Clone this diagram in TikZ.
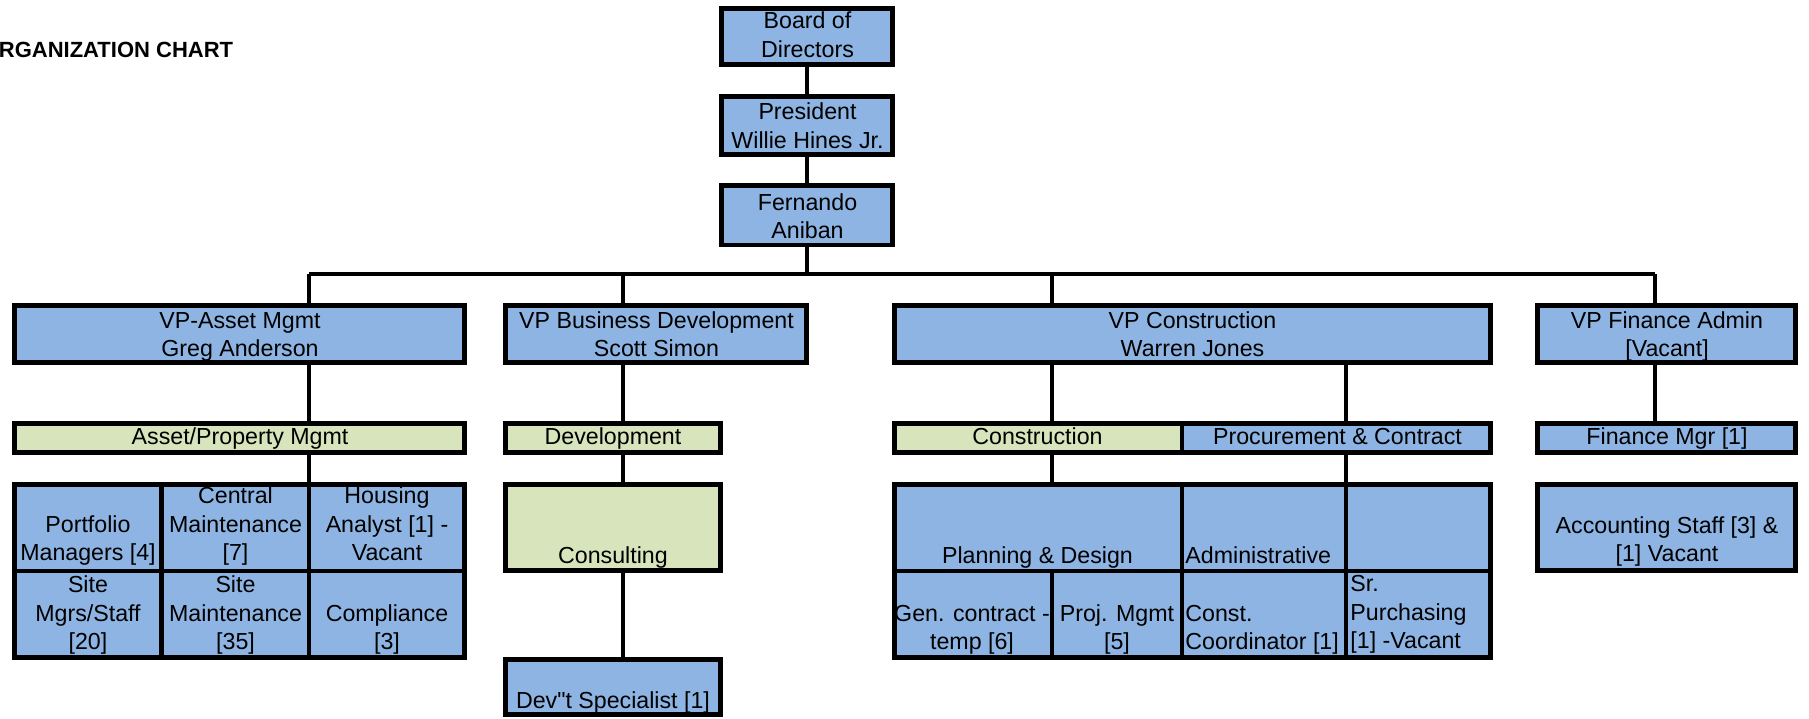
\documentclass[tikz,border=0pt]{standalone}
\usepackage{fontspec}
\setmainfont{Liberation Sans}
\newfontfamily\qfont{Liberation Sans}
\definecolor{cellblue}{RGB}{141,180,226}
\definecolor{cellgreen}{RGB}{216,228,188}
\newcommand\lst{\rule[-3pt]{0pt}{3pt}}
\newcommand\cellbox[6]{\node[#6,minimum width={(#4-#2)*0.5pt},minimum height={(#5-#3)*0.5pt}] (#1) at ({(#2+#4)/2},{(#3+#5)/2}) {};}
\tikzset{
  boxbase/.style={draw=black, line width=2.4pt, rectangle, inner sep=0pt, outer sep=0pt},
  bbox/.style={boxbase, fill=cellblue},
  gbox/.style={boxbase, fill=cellgreen},
  txt/.style={font=\fontsize{11.6}{14.25}\selectfont, inner sep=0pt, align=center, anchor=south},
  ltxt/.style={font=\fontsize{11.6}{14.25}\selectfont, inner sep=0pt, align=left, anchor=south west},
  conn/.style={line width=1.7pt}
}
\begin{document}
\begin{tikzpicture}[x=0.5pt,y=-0.5pt]
\useasboundingbox (0,0) rectangle (1809,718);
% title
\node[font=\fontsize{11}{13}\selectfont\bfseries, anchor=base west, inner sep=0pt] (title) at (-1.5,57.3) {RGANIZATION CHART};
% top chain
\cellbox{board}{721.4}{8.4}{892.6}{64.6}{bbox}
\cellbox{pres}{721.4}{96.7}{892.6}{154.3}{bbox}
\cellbox{fern}{721.4}{185.7}{892.6}{244.9}{bbox}
% VPs
\cellbox{vpa}{14.4}{305.4}{464.6}{362.6}{bbox}
\cellbox{vpb}{505.4}{305.4}{806.6}{362.6}{bbox}
\cellbox{vpc}{894.4}{305.4}{1490.6}{362.6}{bbox}
\cellbox{vpf}{1537.4}{305.4}{1795.6}{362.6}{bbox}
% level 2
\cellbox{ap}{14.4}{423.4}{464.6}{452.6}{gbox}
\cellbox{dev}{505.4}{423.4}{720.6}{452.6}{gbox}
\cellbox{constr}{894.4}{423.4}{1182}{452.6}{gbox}
\cellbox{proc}{1182}{423.4}{1490.6}{452.6}{bbox}
\cellbox{fm}{1537.4}{423.4}{1795.6}{452.6}{bbox}
% asset grid
\cellbox{a11}{14.4}{484.4}{161.7}{571}{bbox}
\cellbox{a12}{161.7}{484.4}{309}{571}{bbox}
\cellbox{a13}{309}{484.4}{464.6}{571}{bbox}
\cellbox{a21}{14.4}{571}{161.7}{657.6}{bbox}
\cellbox{a22}{161.7}{571}{309}{657.6}{bbox}
\cellbox{a23}{309}{571}{464.6}{657.6}{bbox}
% development
\cellbox{cons}{505.4}{484.4}{720.6}{570.6}{gbox}
\cellbox{devs}{505.4}{659.4}{720.6}{714.6}{bbox}
% construction grid
\cellbox{c11}{894.4}{484.4}{1182}{571}{bbox}
\cellbox{c12}{1182}{484.4}{1346}{571}{bbox}
\cellbox{c13}{1346}{484.4}{1490.6}{571}{bbox}
\cellbox{c21}{894.4}{571}{1052}{657.6}{bbox}
\cellbox{c22}{1052}{571}{1182}{657.6}{bbox}
\cellbox{c23}{1182}{571}{1346}{657.6}{bbox}
\cellbox{c24}{1346}{571}{1490.6}{657.6}{bbox}
% finance
\cellbox{acc}{1537.4}{484.4}{1795.6}{570.6}{bbox}
% connector coordinates
\coordinate (busL) at (309,274);
\coordinate (busB) at (623,274);
\coordinate (busC) at (1052,274);
\coordinate (busR) at (1655,274);
\coordinate (procx) at (1346,274);
% connectors
\draw[conn] (board.south) -- (pres.north);
\draw[conn] (pres.south) -- (fern.north);
\draw[conn] (fern.south) -- (fern.south |- busL);
\draw[conn] (busL) -- (busR);
\draw[conn] (busL) -- (busL |- vpa.north);
\draw[conn] (busB) -- (busB |- vpb.north);
\draw[conn] (busC) -- (busC |- vpc.north);
\draw[conn] (busR) -- (busR |- vpf.north);
\draw[conn] (busL |- vpa.south) -- (busL |- ap.north);
\draw[conn] (busL |- ap.south) -- (busL |- a13.north);
\draw[conn] (busB |- vpb.south) -- (busB |- dev.north);
\draw[conn] (busB |- dev.south) -- (busB |- cons.north);
\draw[conn] (busB |- cons.south) -- (busB |- devs.north);
\draw[conn] (busC |- vpc.south) -- (busC |- constr.north);
\draw[conn] (busC |- constr.south) -- (busC |- c11.north);
\draw[conn] (procx |- vpc.south) -- (procx |- proc.north);
\draw[conn] (procx |- proc.south) -- (procx |- c13.north);
\draw[conn] (busR |- vpf.south) -- (busR |- fm.north);
% texts
\begin{scope}[yshift=-1pt]
\node[txt] (t-board) at (807.5,61.7) {Board of\\Directors\lst};
\node[txt] (t-pres) at (807.5,152.7) {President\\Willie Hines Jr.\lst};
\node[txt] (t-fern) at (807.5,243) {Fernando\\Aniban\lst};
\node[txt] (t-vpa) at (240,361) {VP-Asset Mgmt\\Greg Anderson\lst};
\node[txt] (t-vpb) at (656.5,361) {VP Business Development\\Scott Simon\lst};
\node[txt] (t-vpc) at (1192.5,361) {VP Construction\\Warren Jones\lst};
\node[txt] (t-vpf) at (1667,361) {VP Finance Admin\\{}[Vacant]\lst};
\node[txt] (t-ap) at (240,449.3) {Asset/Property Mgmt\lst};
\node[txt] (t-dev) at (613,449.3) {Development\lst};
\node[txt] (t-constr) at (1037.5,449.3) {Construction\lst};
\node[txt] (t-proc) at (1337.5,449.3) {Procurement \& Contract\lst};
\node[txt] (t-fm) at (1667,449.3) {Finance Mgr [1]\lst};
\node[txt] (t-a11) at (88,565.3) {Portfolio\\Managers [4]\lst};
\node[txt] (t-a12) at (235.5,565.3) {Central\\Maintenance\\{}[7]\lst};
\node[txt] (t-a13) at (387,565.3) {Housing\\Analyst [1] -\\Vacant\lst};
\node[txt] (t-a21) at (88,654.3) {Site\\Mgrs/Staff\\{}[20]\lst};
\node[txt] (t-a22) at (235.5,654.3) {Site\\Maintenance\\{}[35]\lst};
\node[txt] (t-a23) at (387,654.3) {Compliance\\{}[3]\lst};
\node[txt] (t-cons) at (613,567.7) {Consulting\lst};
\node[txt] (t-devs) at (613,712.7) {Dev{\qfont"}t Specialist [1]\lst};
\node[txt] (t-c11) at (1037.5,567.7) {Planning \& Design\lst};
\node[ltxt] (t-c12) at (1185,567.7) {Administrative\lst};
\node[txt] (t-c21) at (972,654) {Gen. contract -\\temp [6]\lst};
\node[txt] (t-c22) at (1117,654) {Proj. Mgmt\\{}[5]\lst};
\node[ltxt] (t-c23) at (1185,654) {Const.\\Coordinator [1]\lst};
\node[ltxt] (t-c24) at (1350,653) {Sr.\\Purchasing\\{}[1] -Vacant\lst};
\node[txt] (t-acc) at (1667,566) {Accounting Staff [3] \&\\{}[1] Vacant\lst};
\end{scope}
\end{tikzpicture}
\end{document}
